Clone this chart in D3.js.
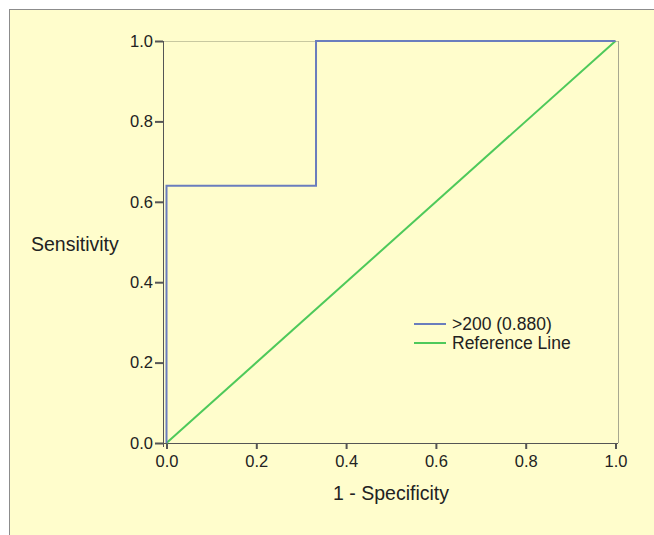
<!DOCTYPE html>
<html>
<head>
<meta charset="utf-8">
<script src="https://cdn.jsdelivr.net/npm/d3@7"></script>
<style>
  html, body { margin: 0; padding: 0; background: #ffffff; }
  svg { display: block; }
  text { font-family: 'Liberation Sans', Arial, sans-serif; fill: #222; }
</style>
</head>
<body>
<svg width="654" height="535"></svg>
<script>
// ROC curve points (1 - specificity, sensitivity)
const rocX = [0, 0, 0.333, 0.333, 1];
const rocY = [0, 0.64, 0.64, 1, 1];
const refX = [0, 1];
const refY = [0, 1];
const tickValues = [0, 0.2, 0.4, 0.6, 0.8, 1.0];
const legendLabels = ['>200 (0.880)', 'Reference Line'];

// Style values
const bgColor = '#fffdcc';
const rocColor = '#6a7dbd';
const refColor = '#4ec95a';
const axisColor = '#555555';

const svg = d3.select('svg');

// chart background with the grey border on top/left
svg.append('rect')
  .attr('x', 9.5).attr('y', 9.5)
  .attr('width', 700).attr('height', 600)
  .attr('fill', bgColor)
  .attr('stroke', '#8c8c8c');

const x = d3.scaleLinear().domain([0, 1]).range([166.5, 615.5]);
const y = d3.scaleLinear().domain([0, 1]).range([443, 41]);

// plot frame (top and right)
svg.append('line')
  .attr('x1', 163).attr('x2', 618.5).attr('y1', 41.5).attr('y2', 41.5)
  .attr('stroke', '#c8c8a0');
svg.append('line')
  .attr('x1', 618.5).attr('x2', 618.5).attr('y1', 41).attr('y2', 443)
  .attr('stroke', '#a8a890');

// Axes
const xAxis = svg.append('g')
  .attr('transform', 'translate(0,443)')
  .call(d3.axisBottom(x).tickValues(tickValues).tickFormat(d3.format('.1f')).tickSize(6).tickPadding(6));
xAxis.select('.domain').attr('d', 'M163,0.5H618').attr('stroke', axisColor);

const yAxis = svg.append('g')
  .attr('transform', 'translate(163,0)')
  .call(d3.axisLeft(y).tickValues(tickValues).tickFormat(d3.format('.1f')).tickSize(8).tickPadding(2));
yAxis.select('.domain').attr('d', 'M0.5,41V447').attr('stroke', axisColor);

[xAxis, yAxis].forEach((ax) => {
  ax.selectAll('.tick line').attr('stroke', axisColor).attr('stroke-width', 2);
  ax.selectAll('.tick text')
    .attr('font-size', 16.5)
    .style('font-family', "'Liberation Sans', Arial, sans-serif")
    .attr('fill', '#222');
});

// Reference line
svg.append('line')
  .attr('x1', x(refX[0])).attr('y1', y(refY[0]))
  .attr('x2', x(refX[1])).attr('y2', y(refY[1]))
  .attr('stroke', refColor)
  .attr('stroke-width', 2);

// ROC step line
const line = d3.line().x((d) => x(d[0])).y((d) => y(d[1]));
svg.append('path')
  .datum(rocX.map((v, i) => [v, rocY[i]]))
  .attr('d', line)
  .attr('fill', 'none')
  .attr('stroke', rocColor)
  .attr('stroke-width', 2);

// Axis titles
svg.append('text')
  .attr('x', 391).attr('y', 493)
  .attr('dy', '0.35em')
  .attr('text-anchor', 'middle')
  .attr('font-size', 19.5)
  .text('1 - Specificity');
svg.append('text')
  .attr('x', 31).attr('y', 244)
  .attr('dy', '0.35em')
  .attr('font-size', 19.5)
  .text('Sensitivity');

// Legend
const legend = svg.append('g').attr('transform', 'translate(414,324)');
[rocColor, refColor].forEach((c, i) => {
  legend.append('line')
    .attr('x1', 0).attr('x2', 32)
    .attr('y1', i * 19).attr('y2', i * 19)
    .attr('stroke', c).attr('stroke-width', 2);
  legend.append('text')
    .attr('x', 38).attr('y', i * 19)
    .attr('dy', '0.35em')
    .attr('font-size', 17.5)
    .text(legendLabels[i]);
});
</script>
</body>
</html>
